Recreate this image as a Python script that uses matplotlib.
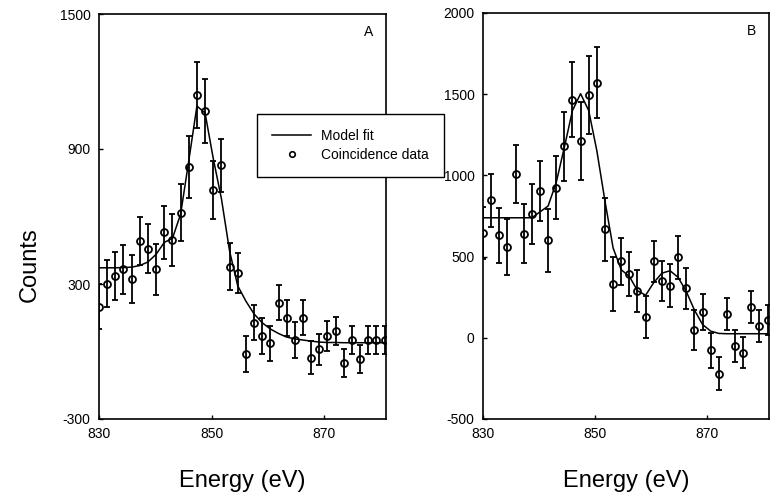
import numpy as np
import matplotlib
matplotlib.use("Agg")
import matplotlib.pyplot as plt
from matplotlib.lines import Line2D

plt.rcParams['font.family'] = ['Liberation Sans', 'DejaVu Sans']
plt.rcParams['axes.unicode_minus'] = False

# energias (eV), mismo paso para ambos paneles
energia = [830.0, 831.45, 832.9, 834.35, 835.8, 837.25, 838.7, 840.15, 841.6,
           843.05, 844.5, 845.95, 847.4, 848.85, 850.3, 851.75, 853.2, 854.65,
           856.1, 857.55, 859.0, 860.45, 861.9, 863.35, 864.8, 866.25, 867.7,
           869.15, 870.6, 872.05, 873.5, 874.95, 876.4, 877.85, 879.3, 880.75]

# panel A
cuentas_A = [198, 301, 337, 365, 321, 491, 457, 365, 530, 496, 617, 821, 1139,
             1069, 718, 827, 377, 350, -12, 128, 69, 36, 217, 150, 50, 150,
             -28, 10, 69, 91, -52, 51, -32, 51, 51, 51]
error_A = [100, 105, 107, 109, 107, 107, 110, 114, 118, 115, 127, 137, 147,
           144, 129, 118, 104, 89, 81, 79, 78, 76, 78, 80, 80, 78, 74, 70, 65,
           63, 62, 61, 62, 61, 61, 61]
ajuste_A = [372, 372, 372, 373, 375, 382, 398, 432, 485, 503, 610, 847, 1091,
            1060, 858, 680, 447, 292, 224, 167, 128, 100, 80, 64, 56, 51, 46,
            42, 40, 40, 39, 39, 39, 39, 39, 39]

# panel B
cuentas_B = [646, 848, 632, 557, 1007, 642, 760, 904, 600, 925, 1178, 1466,
             1209, 1498, 1571, 667, 330, 470, 392, 289, 126, 470, 351, 322,
             495, 305, 48, 161, -76, -221, 144, -50, -93, 188, 74, 110]
error_B = [160, 163, 170, 173, 178, 183, 184, 187, 194, 196, 211, 230, 240,
           240, 219, 192, 168, 142, 134, 130, 129, 126, 122, 131, 131, 126,
           125, 110, 107, 101, 98, 100, 95, 98, 98, 95]
ajuste_B = [739, 739, 739, 739, 739, 739, 739, 775, 811, 955, 1172, 1399, 1503,
            1399, 1152, 842, 553, 419, 378, 290, 262, 340, 398, 413, 372, 285,
            171, 82, 41, 27, 25, 25, 25, 25, 25, 25]

ticks_x = [830, 850, 870]
ticks_A = [-300, 300, 900, 1500]
ticks_B = [-500, 0, 500, 1000, 1500, 2000]

W, H = 770, 492
fig = plt.figure(figsize=(7.7, 4.92), dpi=100)
axA = fig.add_axes([99/W, 1-419/H, 287/W, 405/H])
axB = fig.add_axes([483/W, 1-419/H, 286/W, 406/H])


def panel(ax, y, err, fit, yticks, letra, ly):
    ax.plot(energia, fit, color='black', lw=1.1, zorder=2)
    ax.errorbar(energia, y, yerr=err, fmt='o', ms=5, mfc='none', mec='black',
                mew=1.3, ecolor='black', elinewidth=1.3, capsize=2.2,
                capthick=1.2, zorder=3)
    ax.set_xlim(830, 881)
    ax.set_ylim(yticks[0], yticks[-1])
    ax.set_xticks(ticks_x)
    ax.set_yticks(yticks)
    ax.tick_params(direction='in', length=3, width=1, labelsize=10, pad=6)
    for s in ax.spines.values():
        s.set_linewidth(1.2)
    ax.text(0.94, ly, letra, transform=ax.transAxes, fontsize=10,
            ha='center', va='center')


panel(axA, cuentas_A, error_A, ajuste_A, ticks_A, 'A', 0.955)
panel(axB, cuentas_B, error_B, ajuste_B, ticks_B, 'B', 0.955)

fig.text(30/W, 1-265/H, 'Counts', rotation=90, fontsize=17,
         ha='center', va='center')
fig.text(242/W, 1-481/H, 'Energy (eV)', fontsize=17, ha='center', va='center')
fig.text(626/W, 1-481/H, 'Energy (eV)', fontsize=17, ha='center', va='center')

manejadores = [Line2D([], [], color='black', lw=1.1),
               Line2D([], [], ls='none', marker='o', ms=4, mfc='none',
                      mec='black', mew=1.2)]
leg = fig.legend(manejadores, ['Model fit', 'Coincidence data'],
                 loc='upper left', bbox_to_anchor=(257/W, 1-114/H),
                 fontsize=10, frameon=True, fancybox=False, framealpha=1,
                 edgecolor='black', borderpad=1.1, handlelength=2.8,
                 labelspacing=0.35, handletextpad=0.7, borderaxespad=0)
leg.get_frame().set_linewidth(1.0)

fig.savefig('out.png', dpi=100)
